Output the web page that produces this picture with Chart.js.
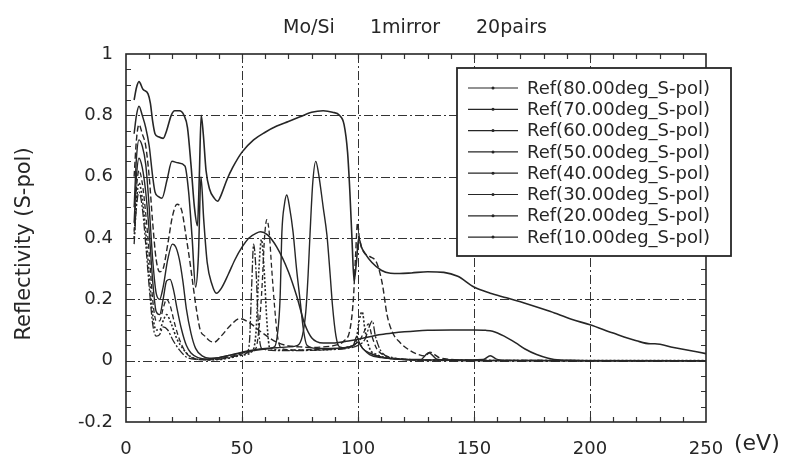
<!DOCTYPE html>
<html>
<head>
<meta charset="utf-8">
<script src="https://cdn.jsdelivr.net/npm/chart.js@4.4.1/dist/chart.umd.min.js"></script>
<style>
  html, body { margin: 0; padding: 0; background: #fff; }
  #wrap { width: 789px; height: 456px; }
</style>
</head>
<body>
<div id="wrap"><canvas id="chart" width="789" height="456"></canvas></div>
<script>
// Mo/Si 1 mirror 20 pairs, S-pol reflectivity vs photon energy (eV)
const seriesNames = ['Ref(80.00deg_S-pol)', 'Ref(70.00deg_S-pol)', 'Ref(60.00deg_S-pol)', 'Ref(50.00deg_S-pol)',
                     'Ref(40.00deg_S-pol)', 'Ref(30.00deg_S-pol)', 'Ref(20.00deg_S-pol)', 'Ref(10.00deg_S-pol)']

const e80 = [3.5, 4.5, 5.6, 7.3, 9.5, 10.5, 11.5, 12.5, 14, 16, 17.5, 19.5, 21, 23, 25, 26.5, 28, 29.5, 30.8, 31.6,
             32.4, 33.3, 34.5, 36, 38, 39.5, 41, 43.5, 46, 50, 55, 60, 65, 70, 75, 80, 85, 89, 92, 94,
             95.5, 96.5, 97.5, 98.3, 99.3, 100.3, 101.5, 103, 106, 110, 114, 118, 123, 130, 137, 143, 150, 157, 164, 173,
             183, 192, 200, 210, 220, 226, 228, 236, 243, 250]
const r80 = [0.85, 0.89, 0.91, 0.885, 0.87, 0.84, 0.78, 0.74, 0.73, 0.725, 0.75, 0.8, 0.815, 0.815, 0.8, 0.76, 0.64, 0.5, 0.44, 0.6,
             0.8, 0.74, 0.62, 0.56, 0.53, 0.52, 0.54, 0.59, 0.63, 0.68, 0.72, 0.745, 0.765, 0.78, 0.795, 0.81, 0.815, 0.81, 0.8, 0.77,
             0.68, 0.55, 0.38, 0.26, 0.32, 0.4, 0.37, 0.35, 0.32, 0.295, 0.285, 0.284, 0.286, 0.29, 0.288, 0.275, 0.24, 0.22, 0.205, 0.185,
             0.16, 0.135, 0.117, 0.09, 0.065, 0.055, 0.055, 0.043, 0.033, 0.023]

const e70 = [3.5, 4.5, 5.6, 7, 8.5, 10, 11.5, 12.5, 14, 15.5, 17.7, 19.8, 22.4, 25.4, 27, 28.5, 30, 31.2, 32.3, 33.5,
             35, 37, 39, 41, 44, 47, 50, 53, 56, 58, 61, 65, 70, 73.6, 77, 80, 85, 90, 95, 100,
             105, 110, 115, 120, 125, 130, 140, 150, 155, 158, 163, 168, 172, 177, 182, 187, 192, 200, 250]
const r70 = [0.74, 0.8, 0.83, 0.8, 0.76, 0.7, 0.6, 0.55, 0.535, 0.53, 0.59, 0.65, 0.645, 0.635, 0.55, 0.4, 0.24, 0.34, 0.6, 0.46,
             0.32, 0.25, 0.22, 0.235, 0.28, 0.33, 0.37, 0.4, 0.415, 0.42, 0.41, 0.37, 0.29, 0.21, 0.12, 0.075, 0.058, 0.058, 0.063, 0.07,
             0.078, 0.085, 0.09, 0.094, 0.097, 0.099, 0.1, 0.1, 0.099, 0.096, 0.08, 0.058, 0.038, 0.02, 0.008, 0.002, 0.001, 0, 0]

const e60 = [3.5, 4.5, 5.6, 7, 8.5, 10, 11.5, 13, 14.5, 16, 18, 20, 22, 24, 26, 27.6, 29, 30.5, 32, 34,
             36, 38, 41, 45, 49, 53, 58, 65, 70, 75, 80, 85, 90, 94, 96.5, 98, 99, 99.8, 100.6, 102,
             105, 108, 110.5, 112.5, 115, 118, 122, 126, 129, 131, 133, 135, 140, 150, 250]
const r60 = [0.6, 0.72, 0.77, 0.74, 0.7, 0.6, 0.45, 0.33, 0.29, 0.3, 0.38, 0.47, 0.51, 0.49, 0.4, 0.32, 0.24, 0.16, 0.1, 0.08,
             0.065, 0.06, 0.08, 0.115, 0.137, 0.125, 0.095, 0.06, 0.048, 0.045, 0.043, 0.045, 0.05, 0.065, 0.1, 0.2, 0.35, 0.45, 0.4, 0.36,
             0.34, 0.32, 0.25, 0.15, 0.09, 0.06, 0.035, 0.02, 0.015, 0.028, 0.02, 0.01, 0.004, 0, 0]

const e50 = [3.5, 4.5, 5.6, 7, 8.5, 10, 11.5, 13, 14.5, 16, 18, 20, 21.5, 23, 24.5, 26, 28, 30, 33, 36,
             40, 45, 50, 55, 60, 65, 70, 74, 76, 77.5, 78.5, 79.3, 80.5, 81.8, 83, 85, 86.6, 88, 89, 90.5,
             92, 95, 98, 99.5, 100.5, 102, 105, 110, 115, 120, 127, 130.5, 134, 138, 150, 250]
const r50 = [0.5, 0.66, 0.72, 0.7, 0.64, 0.5, 0.33, 0.22, 0.2, 0.24, 0.33, 0.38, 0.37, 0.33, 0.26, 0.17, 0.09, 0.04, 0.015, 0.008,
             0.01, 0.018, 0.028, 0.035, 0.04, 0.042, 0.045, 0.05, 0.08, 0.16, 0.28, 0.41, 0.58, 0.65, 0.61, 0.5, 0.41, 0.28, 0.18, 0.08,
             0.045, 0.042, 0.05, 0.08, 0.06, 0.04, 0.025, 0.012, 0.006, 0.004, 0.004, 0.026, 0.005, 0.002, 0, 0]

const e40 = [3.5, 4.5, 5.6, 7, 8.5, 10, 11.5, 13, 14.5, 16, 17.5, 19, 20.5, 22, 24, 26, 28, 31, 35, 40,
             45, 50, 55, 60, 64, 65.5, 66.4, 67.2, 68.3, 69.3, 70.5, 72, 73.5, 75, 76.5, 78, 82, 88, 94, 98,
             100, 102, 105, 110, 120, 140, 154, 157, 160, 165, 250]
const r40 = [0.45, 0.6, 0.66, 0.63, 0.55, 0.42, 0.26, 0.16, 0.15, 0.2, 0.26, 0.265, 0.23, 0.17, 0.1, 0.05, 0.025, 0.01, 0.005, 0.01,
             0.018, 0.026, 0.033, 0.038, 0.045, 0.1, 0.2, 0.42, 0.51, 0.54, 0.5, 0.42, 0.3, 0.2, 0.1, 0.05, 0.04, 0.04, 0.042, 0.05,
             0.06, 0.04, 0.02, 0.01, 0.004, 0.002, 0.004, 0.016, 0.004, 0.001, 0]

const e30 = [3.5, 4.5, 5.6, 7, 8.5, 10, 11.5, 13, 14.5, 16, 17.5, 19, 21, 23, 26, 30, 35, 40, 45, 50,
             54, 56, 57.5, 58.7, 59.7, 60.7, 61.7, 62.8, 64, 65.3, 67, 72, 80, 88, 95, 99, 101, 103, 104.5, 106,
             108, 112, 120, 130, 250]
const r30 = [0.42, 0.56, 0.62, 0.58, 0.48, 0.35, 0.2, 0.13, 0.13, 0.17, 0.2, 0.18, 0.12, 0.07, 0.025, 0.006, 0.003, 0.006, 0.013, 0.022,
             0.03, 0.04, 0.12, 0.25, 0.4, 0.46, 0.42, 0.3, 0.18, 0.08, 0.04, 0.035, 0.036, 0.038, 0.042, 0.055, 0.07, 0.1, 0.12, 0.08,
             0.04, 0.015, 0.005, 0.002, 0]

const e20 = [3.5, 4.5, 5.6, 7, 8.5, 10, 11.5, 13, 14.5, 16, 17.5, 19.5, 22, 25, 28, 32, 38, 44, 50, 54,
             56, 57.3, 58.4, 59.5, 60.8, 62, 70, 80, 90, 96, 99, 100.5, 101.8, 103, 105, 108, 112, 120, 130, 250]
const r20 = [0.4, 0.52, 0.58, 0.53, 0.42, 0.28, 0.15, 0.1, 0.1, 0.13, 0.15, 0.12, 0.07, 0.035, 0.012, 0.004, 0.003, 0.008, 0.018, 0.028,
             0.09, 0.3, 0.395, 0.3, 0.12, 0.04, 0.034, 0.034, 0.038, 0.045, 0.06, 0.13, 0.16, 0.1, 0.04, 0.02, 0.01, 0.004, 0.001, 0]

const e10 = [3.5, 4.5, 5.6, 7, 8.5, 10, 11.5, 13, 14.5, 16, 18, 20, 23, 26, 30, 36, 42, 48, 52, 53.2,
             54.2, 55, 56, 57.2, 58.5, 65, 75, 85, 95, 100, 103, 104.8, 106.2, 107.5, 110, 115, 125, 250]
const r10 = [0.38, 0.5, 0.55, 0.5, 0.38, 0.24, 0.12, 0.08, 0.085, 0.11, 0.1, 0.07, 0.035, 0.012, 0.004, 0.003, 0.007, 0.016, 0.025, 0.06,
             0.25, 0.38, 0.3, 0.1, 0.04, 0.033, 0.033, 0.035, 0.04, 0.05, 0.07, 0.11, 0.13, 0.08, 0.03, 0.01, 0.003, 0]

const xTicks = [0, 50, 100, 150, 200, 250]
const yTicks = [-0.2, 0, 0.2, 0.4, 0.6, 0.8, 1]

const energies = [e80, e70, e60, e50, e40, e30, e20, e10]
const refls = [r80, r70, r60, r50, r40, r30, r20, r10]
const dashes = [[], [], [6, 3], [], [], [5, 3], [2, 2], [8, 2, 2, 2]]
const widths = [1.6, 1.5, 1.4, 1.4, 1.4, 1.3, 1.6, 1.3]
const ink = '#262626'
const FONT = "'DejaVu Sans', sans-serif"

let datasets = []
for (let i = 0; i < seriesNames.length; i++) {
    datasets.push({
        label: seriesNames[i],
        data: energies[i].map((e, k) => ({x: e, y: refls[i][k]})),
        borderColor: ink,
        borderWidth: widths[i],
        borderDash: dashes[i],
        pointRadius: 0,
        fill: false,
        cubicInterpolationMode: 'monotone'
    })
}

// frame, dash-dot grid and inside minor ticks
const framePlugin = {
    id: 'frame',
    beforeDatasetsDraw(chart) {
        const {ctx, chartArea: a, scales: {x, y}} = chart
        ctx.save()
        ctx.strokeStyle = '#333'
        ctx.lineWidth = 1
        ctx.setLineDash([9, 3, 2, 3])
        for (let v of xTicks.slice(1, -1)) {
            let px = Math.round(x.getPixelForValue(v)) + 0.5
            ctx.beginPath(); ctx.moveTo(px, a.top); ctx.lineTo(px, a.bottom); ctx.stroke()
        }
        for (let v of yTicks.slice(1, -1)) {
            let py = Math.round(y.getPixelForValue(v)) + 0.5
            ctx.beginPath(); ctx.moveTo(a.left, py); ctx.lineTo(a.right, py); ctx.stroke()
        }
        ctx.setLineDash([])
        ctx.lineWidth = 1.2
        for (let v = 10; v < 250; v += 10) {
            let px = Math.round(x.getPixelForValue(v)) + 0.5
            ctx.beginPath()
            ctx.moveTo(px, a.bottom); ctx.lineTo(px, a.bottom - 5)
            ctx.moveTo(px, a.top); ctx.lineTo(px, a.top + 5)
            ctx.stroke()
        }
        for (let k = -3; k < 20; k++) {
            let py = Math.round(y.getPixelForValue(k * 0.05)) + 0.5
            ctx.beginPath()
            ctx.moveTo(a.left, py); ctx.lineTo(a.left + 5, py)
            ctx.moveTo(a.right, py); ctx.lineTo(a.right - 5, py)
            ctx.stroke()
        }
        ctx.lineWidth = 1.6
        ctx.strokeStyle = ink
        ctx.strokeRect(a.left, a.top, a.right - a.left, a.bottom - a.top)
        ctx.restore()
    },
    afterDraw(chart) {
        const ctx = chart.ctx
        ctx.save()
        ctx.fillStyle = ink
        ctx.textBaseline = 'middle'
        ctx.font = '19px ' + FONT
        ctx.fillText('Mo/Si', 283, 28)
        ctx.fillText('1mirror', 370, 28)
        ctx.fillText('20pairs', 476, 28)
        ctx.font = '22px ' + FONT
        ctx.fillText('(eV)', 734, 444)
        ctx.save()
        ctx.translate(25, 244)
        ctx.rotate(-Math.PI / 2)
        ctx.textAlign = 'center'
        ctx.font = '21px ' + FONT
        ctx.fillText('Reflectivity (S-pol)', 0, 0)
        ctx.restore()

        // legend box
        ctx.fillStyle = '#fff'
        ctx.fillRect(457, 68, 274, 188)
        ctx.strokeStyle = ink
        ctx.lineWidth = 1.8
        ctx.strokeRect(457, 68, 274, 188)
        ctx.font = '18px ' + FONT
        ctx.lineWidth = 1.2
        chart.data.datasets.forEach((ds, i) => {
            let yy = 88 + i * 21.3
            ctx.beginPath(); ctx.moveTo(468, yy); ctx.lineTo(518, yy); ctx.stroke()
            ctx.beginPath(); ctx.arc(493, yy, 1.5, 0, Math.PI * 2); ctx.fillStyle = ink; ctx.fill()
            ctx.fillText(ds.label, 527, yy + 1)
        })
        ctx.restore()
    }
}

new Chart(document.getElementById('chart'), {
    type: 'line',
    data: {datasets: datasets},
    plugins: [framePlugin],
    options: {
        responsive: false,
        animation: false,
        devicePixelRatio: 1,
        layout: {padding: {top: 54, right: 83, left: 0, bottom: 0}},
        plugins: {legend: {display: false}, tooltip: {enabled: false}, title: {display: false}},
        scales: {
            x: {
                type: 'linear', min: 0, max: 250,
                afterFit: s => { s.height = 34 },
                afterBuildTicks: s => { s.ticks = xTicks.map(v => ({value: v})) },
                grid: {display: false},
                border: {display: false},
                ticks: {color: ink, font: {family: FONT, size: 18}, padding: 9, maxRotation: 0}
            },
            y: {
                min: -0.2, max: 1,
                afterFit: s => { s.width = 126 },
                afterBuildTicks: s => { s.ticks = yTicks.map(v => ({value: v})) },
                grid: {display: false},
                border: {display: false},
                ticks: {color: ink, font: {family: FONT, size: 18}, padding: 5,
                        callback: v => String(Math.round(v * 10) / 10)}
            }
        }
    }
})
</script>
</body>
</html>
